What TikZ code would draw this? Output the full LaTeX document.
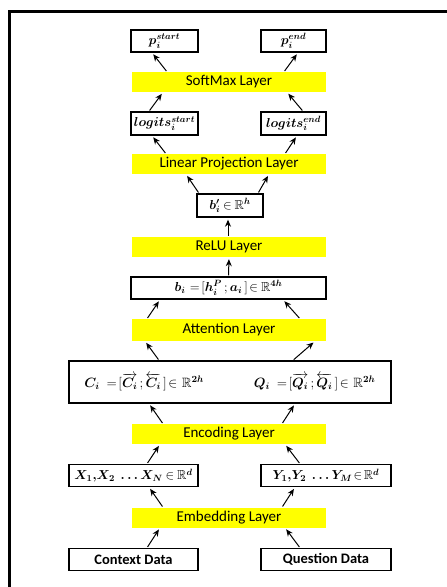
\RequirePackage{fix-cm}
\documentclass[tikz,border=0pt]{standalone}
\usepackage{amsmath,amssymb,bm}
\usepackage{fontspec}
\setmainfont{Carlito}
\usepackage{tikz}
\usetikzlibrary{arrows.meta}
\definecolor{layeryellow}{RGB}{255,255,0}
\thickmuskip=2mu plus 1mu
\medmuskip=2mu

\tikzset{
  layer/.style={fill=layeryellow, minimum width=194pt, minimum height=20pt, inner sep=0pt, font=\fontsize{15}{17}\selectfont},
  vecbox/.style={draw, line width=1.4pt, minimum height=22pt, inner sep=0pt, font=\fontsize{13}{15}\selectfont},
  databox/.style={vecbox, font=\fontsize{14.5}{16}\selectfont\bfseries},
  arr/.style={-{Stealth[length=7pt,width=6pt]}, line width=1pt, shorten <=1pt, shorten >=2pt}
}

\begin{document}
\begin{tikzpicture}[x=1pt, y=-1pt]
  \useasboundingbox (0,0) rectangle (447,587);
  % frame
  \draw[line width=3pt] (9.5,587) -- (9.5,11.5) -- (447,11.5);

  % inputs
  \node[databox, minimum width=129pt] (ctx) at (133.5,559.5) {Context Data};
  \node[databox, minimum width=130pt] (qst) at (326,559.5) {Question Data};
  \node[layer] (emb) at (229,517.5) {Embedding Layer};
  \node[vecbox, minimum width=129pt] (xvec) at (133.5,475.5) {$\bm{X_1{,}X_2\;\,\ldots X_N}\;\in\;\mathbb{R}^{\bm d}$};
  \node[vecbox, minimum width=130pt] (yvec) at (326,475.5) {$\bm{Y_1{,}Y_2\;\,\ldots Y_M}\in\mathbb{R}^{\bm d}$};
  \node[layer] (enc) at (229,434) {Encoding Layer};
  \node[vecbox, minimum width=322pt, minimum height=42pt, font=\fontsize{13.5}{15}\selectfont] (cq) at (230,382)
    {$\bm{C_i}\;\;\,=[\overrightarrow{\bm{C_i}}\,;\overleftarrow{\bm{C_i}}\,]\in\;\;\mathbb{R}^{\bm{2h}}$\hspace{50pt}%
     $\bm{Q_i}\;\;\,=[\overrightarrow{\bm{Q_i}}\,;\overleftarrow{\bm{Q_i}}\,]\in\;\;\mathbb{R}^{\bm{2h}}$};
  \node[layer, minimum height=22pt] (att) at (229,330) {Attention Layer};
  \node[vecbox, minimum width=195pt] (bvec) at (228.5,288) {$\bm{b_i}\;\;=[\bm{h_i^P}\,;\bm{a_i}\,]\in\;\mathbb{R}^{\bm{4h}}$};
  \node[layer] (relu) at (229,247) {ReLU Layer};
  \node[vecbox, minimum width=66pt, minimum height=23pt] (bprime) at (230,205.5) {$\bm{b'_i}\;\in\;\mathbb{R}^{\bm h}$};
  \node[layer] (lin) at (229,164) {Linear Projection Layer};
  \node[vecbox, minimum width=67pt, minimum height=23pt] (lst) at (164.5,123.5) {$\bm{logits_i^{start}}$};
  \node[vecbox, minimum width=65pt, minimum height=23pt] (lend) at (293.5,123.5) {$\bm{logits_i^{end}}$};
  \node[layer] (soft) at (229,82) {SoftMax Layer};
  \node[vecbox, minimum width=67pt] (pst) at (164.5,41) {$\bm{p_i^{start}}$};
  \node[vecbox, minimum width=65pt] (pend) at (293.5,41) {$\bm{p_i^{end}}$};

  % connectors, all pointing upwards
  \foreach \s/\a/\t/\b in {ctx/13.5/emb/-69, qst/-26/emb/56,
      emb/-66/xvec/15.5, emb/53/yvec/-31,
      xvec/13.5/enc/-69, yvec/-26/enc/56,
      enc/-66/cq/-81, enc/53/cq/65,
      cq/-71/att/-84, cq/63/att/86,
      att/-82/bvec/-68.5, att/71/bvec/54.5,
      bvec/0/relu/0, relu/-1/bprime/-2,
      bprime/-31/lin/-43, bprime/28/lin/40,
      lin/-63/lst/-12.5, lin/56/lend/3.5,
      lst/-15.5/soft/-66, lend/9.5/soft/58,
      soft/-62/pst/-12.5, soft/55/pend/4.5}
    \draw[arr] ([xshift=\a pt]\s.north) -- ([xshift=\b pt]\t.south);
\end{tikzpicture}
\end{document}
